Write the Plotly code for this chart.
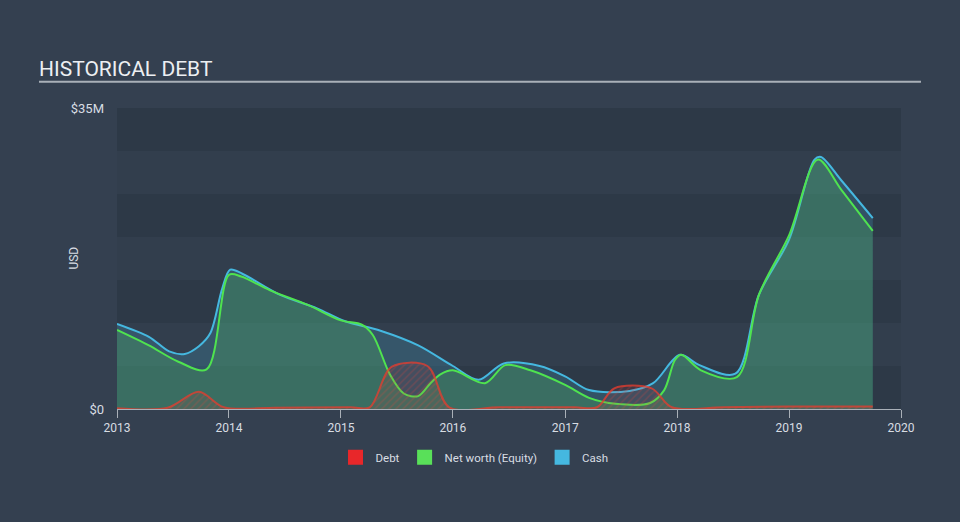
import plotly.graph_objects as go

# ---- data (USD millions) ----
cash_dates = ["2013-01-01", "2013-04-15", "2013-06-20", "2013-08-10", "2013-09-25", "2013-11-01",
              "2013-12-10", "2014-01-05", "2014-02-15", "2014-06-15", "2014-10-15", "2015-01-15",
              "2015-05-10", "2015-09-10", "2016-01-01", "2016-03-25", "2016-06-15", "2016-10-10",
              "2017-01-01", "2017-03-20", "2017-07-30", "2017-10-15", "2018-01-10", "2018-03-15",
              "2018-07-10", "2018-09-25", "2019-01-01", "2019-03-25", "2019-04-15", "2019-06-20",
              "2019-10-01"]
cash_vals = [9.9, 8.4, 6.7, 6.4, 7.3, 8.8,
             14.0, 16.2, 15.7, 13.3, 11.7, 10.2,
             9.1, 7.4, 5.0, 3.4, 5.3, 5.0,
             3.8, 2.2, 2.1, 3.0, 6.3, 5.1,
             4.1, 13.3, 19.7, 29.0, 29.3, 26.6,
             22.2]

equity_dates = ["2013-01-01", "2013-04-15", "2013-07-20", "2013-10-20", "2014-01-01", "2014-02-10",
                "2014-05-15", "2014-09-15", "2015-01-01", "2015-03-10", "2015-04-15", "2015-06-10",
                "2015-07-25", "2015-09-10", "2015-10-20", "2015-11-20", "2016-01-01", "2016-04-15",
                "2016-06-20", "2016-09-10", "2017-01-01", "2017-03-20", "2017-06-15", "2017-10-05",
                "2017-11-20", "2017-12-25", "2018-01-15", "2018-03-20", "2018-07-15", "2018-09-25",
                "2019-01-01", "2019-04-05", "2019-06-20", "2019-10-01"]
equity_vals = [9.2, 7.4, 5.5, 4.6, 15.6, 15.4,
               13.8, 12.1, 10.3, 9.8, 8.6, 4.0,
               1.8, 1.5, 3.0, 4.0, 4.5, 3.0,
               5.1, 4.5, 2.8, 1.3, 0.6, 0.7,
               2.2, 5.7, 6.3, 4.5, 3.7, 13.3,
               20.2, 29.0, 25.5, 20.7]

debt_dates = ["2013-01-01", "2013-06-15", "2013-09-25", "2013-12-15", "2014-06-01", "2015-02-01",
              "2015-04-05", "2015-06-15", "2015-10-10", "2015-12-20", "2016-06-01", "2017-02-01",
              "2017-04-15", "2017-06-10", "2017-10-10", "2017-12-15", "2018-06-01", "2019-01-01",
              "2019-10-01"]
debt_vals = [0.1, 0.15, 2.0, 0.2, 0.15, 0.2,
             0.2, 4.9, 5.0, 0.2, 0.2, 0.2,
             0.2, 2.4, 2.4, 0.2, 0.2, 0.3,
             0.3]

year_ticks = ["2013-01-01", "2014-01-01", "2015-01-01", "2016-01-01", "2017-01-01",
              "2018-01-01", "2019-01-01", "2020-01-01"]
year_labels = ["2013", "2014", "2015", "2016", "2017", "2018", "2019", "2020"]

# ---- style ----
PAPER = "#344050"
PLOT = "#323e4d"
BAND = "#2d3947"
TEXT = "#d8dde3"
FONT = "Roboto"

DEBT_C = "#e8272a"
EQ_C = "#59e059"
CASH_C = "#45b8e0"

fig = go.Figure()

fig.add_trace(go.Scatter(
    x=cash_dates, y=cash_vals, mode="lines", line=dict(color=CASH_C, width=2, shape="spline", smoothing=0.9),
    fill="tozeroy", fillcolor="rgba(69,184,224,0.2)", showlegend=False, hoverinfo="skip"))
fig.add_trace(go.Scatter(
    x=equity_dates, y=equity_vals, mode="lines", line=dict(color="#4fe34f", width=2, shape="spline", smoothing=0.9),
    fill="tozeroy", fillcolor="rgba(89,224,89,0.2)", showlegend=False, hoverinfo="skip"))
fig.add_trace(go.Scatter(
    x=debt_dates, y=debt_vals, mode="lines", line=dict(color="rgba(232,60,45,0.75)", width=2, shape="spline", smoothing=0.9),
    fill="tozeroy", fillcolor="rgba(232,39,42,0.12)",
    fillpattern=dict(shape="/", fgcolor="rgba(232,70,60,0.45)", bgcolor="rgba(232,39,42,0.1)", size=5, solidity=0.3),
    showlegend=False, hoverinfo="skip"))

# legend entries
for name, col in [("Debt", DEBT_C), ("Net worth (Equity)", EQ_C), ("Cash", CASH_C)]:
    fig.add_trace(go.Scatter(x=[None], y=[None], mode="markers", name=name,
                             marker=dict(symbol="square", size=15, color=col)))

shapes = []
for lo in [0, 10, 20, 30]:
    shapes.append(dict(type="rect", xref="paper", yref="y", x0=0, x1=1, y0=lo, y1=lo + 5,
                       fillcolor=BAND, line=dict(width=0), layer="below"))
# title underline
shapes.append(dict(type="line", xref="paper", yref="paper", x0=-0.0995, x1=1.0255, y0=1.087, y1=1.087,
                   line=dict(color="#a9b0b8", width=2)))

fig.update_layout(
    width=960, height=522,
    paper_bgcolor=PAPER, plot_bgcolor=PLOT,
    margin=dict(l=117, r=59, t=108, b=113),
    font=dict(family=FONT, color=TEXT, size=12),
    shapes=shapes,
    showlegend=True,
    legend=dict(orientation="h", x=0.456, xanchor="center", y=-0.16, yanchor="middle",
                font=dict(size=11.5, color=TEXT), bgcolor="rgba(0,0,0,0)", itemwidth=30),
    annotations=[
        dict(text="HISTORICAL DEBT", xref="paper", yref="paper", x=-0.1025, y=1.128,
             xanchor="left", yanchor="middle", showarrow=False,
             font=dict(family=FONT, size=21, color="#eceff2")),
        dict(text="USD", xref="paper", yref="paper", x=-0.056, y=0.5, textangle=-90,
             xanchor="center", yanchor="middle", showarrow=False,
             font=dict(family=FONT, size=12, color=TEXT)),
    ],
    xaxis=dict(type="date", range=["2013-01-01", "2020-01-01"], tickvals=year_ticks, ticktext=year_labels,
               ticks="outside", ticklen=8, tickcolor="#a9b0b8", showline=True, linecolor="#a9b0b8",
               linewidth=1, showgrid=False, zeroline=False, tickfont=dict(size=12, color=TEXT)),
    yaxis=dict(range=[0, 35], tickvals=[0, 35], ticktext=["$0", "$35M"], showgrid=False,
               zeroline=False, showline=False, ticks="", ticklabelstandoff=12,
               tickfont=dict(size=13, color=TEXT)),
)

fig.write_html("out.html")
